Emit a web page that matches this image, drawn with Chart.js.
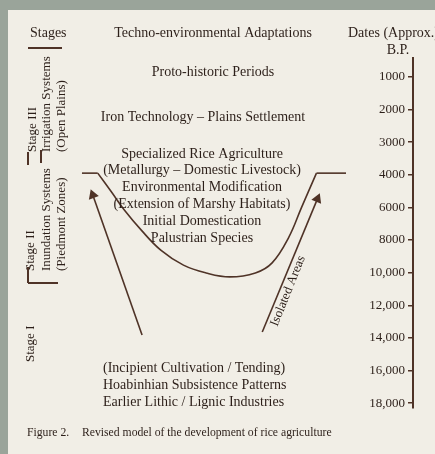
<!DOCTYPE html>
<html>
<head>
<meta charset="utf-8">
<title>Revised model of the development of rice agriculture</title>
<script src="https://cdn.jsdelivr.net/npm/chart.js@4.4.1/dist/chart.umd.min.js"></script>
<style>
	html, body { margin: 0; padding: 0; background: #9aa49a; }
	canvas { display: block; }
</style>
</head>
<body>
<canvas id="riceChart" width="435" height="454"></canvas>
<script>
// date ticks (B.P.), one tick per index on the y scale
var dateLabels = ['1000', '2000', '3000', '4000', '6000', '8000', '10,000', '12,000', '14,000', '16,000', '18,000'];

// U-shaped curve, x in drawing units, y in date-tick index
var curveX = [93, 107, 120, 137, 157, 180, 203, 227, 253, 270, 287, 300, 315];
var curveY = [2.95, 3.53, 4.08, 4.69, 5.31, 5.77, 6.01, 6.13, 6.01, 5.7, 4.91, 3.99, 2.95];
var leftFlatX = [77, 93];
var leftFlatY = [2.95, 2.95];
var rightFlatX = [315, 345];
var rightFlatY = [2.95, 2.95];

// arrows, from tail to head
var leftArrowX = [138, 88];
var leftArrowY = [7.91, 3.62];
var rightArrowX = [260, 316];
var rightArrowY = [7.82, 3.74];

var headers = ['Stages', 'Techno-environmental Adaptations', 'Dates (Approx.)', 'B.P.'];
var upperAdaptations = ['Proto-historic Periods', 'Iron Technology \u2013 Plains Settlement'];
var middleAdaptations = ['Specialized Rice Agriculture', '(Metallurgy \u2013 Domestic Livestock)', 'Environmental Modification', '(Extension of Marshy Habitats)', 'Initial Domestication', 'Palustrian Species'];
var lowerAdaptations = ['(Incipient Cultivation / Tending)', 'Hoabinhian Subsistence Patterns', 'Earlier Lithic / Lignic Industries'];
var stageIII = ['Stage III', 'Irrigation Systems', '(Open Plains)'];
var stageII = ['Stage II', 'Inundation Systems', '(Piedmont Zones)'];
var stageI = ['Stage I'];
var branchLabel = 'Isolated Areas';
var captionLabel = 'Figure 2.';
var captionText = 'Revised model of the development of rice agriculture';

var SERIF = "'Liberation Serif', 'DejaVu Serif', serif";
var INK = '#2c1f19';
var LINE = '#4f3327';

function toPoints(xs, ys) {
	return xs.map(function(x, i) { return { x: x, y: ys[i] }; });
}

var paperPlugin = {
	id: 'paper',
	beforeDraw: function(chart) {
		var ctx = chart.ctx;
		ctx.save();
		ctx.fillStyle = '#9aa49a';
		ctx.fillRect(0, 0, chart.width, chart.height);
		ctx.fillStyle = '#f1eee6';
		ctx.fillRect(8, 10, chart.width - 8, chart.height - 10);
		ctx.restore();
	}
};

var textPlugin = {
	id: 'figureText',
	afterDraw: function(chart) {
		var ctx = chart.ctx;
		ctx.save();
		ctx.fillStyle = INK;
		ctx.textBaseline = 'middle';

		// headers
		ctx.font = '14px ' + SERIF;
		ctx.textAlign = 'left';
		ctx.fillText(headers[0], 30, 33);
		ctx.textAlign = 'center';
		ctx.fillText(headers[1], 213, 33);
		ctx.textAlign = 'left';
		ctx.fillText(headers[2], 348, 33);
		ctx.textAlign = 'center';
		ctx.fillText(headers[3], 398, 50);

		// adaptations
		ctx.font = '14px ' + SERIF;
		ctx.textAlign = 'center';
		ctx.fillText(upperAdaptations[0], 213, 72);
		ctx.fillText(upperAdaptations[1], 203, 117);
		middleAdaptations.forEach(function(t, i) {
			ctx.fillText(t, 202, 154 + i * 16.8);
		});
		ctx.textAlign = 'left';
		lowerAdaptations.forEach(function(t, i) {
			ctx.fillText(t, 103, 368 + i * 17);
		});

		// stage column, rotated
		ctx.font = '13px ' + SERIF;
		function vertical(lines, xs, yStart) {
			lines.forEach(function(t, i) {
				ctx.save();
				ctx.translate(xs[i], yStart);
				ctx.rotate(-Math.PI / 2);
				ctx.textAlign = 'left';
				ctx.fillText(t, 0, 0);
				ctx.restore();
			});
		}
		vertical(stageIII, [33, 47, 62], 152);
		vertical(stageII, [31, 47, 62], 271);
		vertical(stageI, [31], 362);

		// stage rules
		ctx.strokeStyle = LINE;
		ctx.lineWidth = 2;
		ctx.beginPath();
		ctx.moveTo(28, 48); ctx.lineTo(62, 48);
		ctx.moveTo(28, 152); ctx.lineTo(28, 165);
		ctx.moveTo(41, 150); ctx.lineTo(41, 163);
		ctx.moveTo(28, 267); ctx.lineTo(28, 283);
		ctx.moveTo(28, 283); ctx.lineTo(58, 283);
		ctx.stroke();

		// label along the right arrow
		ctx.font = '13px ' + SERIF;
		ctx.save();
		ctx.translate(288, 291);
		ctx.rotate(-68 * Math.PI / 180);
		ctx.textAlign = 'center';
		ctx.fillText(branchLabel, 0, 0);
		ctx.restore();

		// caption
		ctx.font = '11.7px ' + SERIF;
		ctx.textAlign = 'left';
		ctx.fillText(captionLabel, 27, 433);
		ctx.fillText(captionText, 82, 433);
		ctx.restore();
	}
};

function lineSet(xs, ys, extra) {
	var ds = {
		data: toPoints(xs, ys),
		showLine: true,
		borderColor: LINE,
		backgroundColor: LINE,
		borderWidth: 1.6,
		pointRadius: 0,
		tension: 0
	};
	for (var k in extra) ds[k] = extra[k];
	return ds;
}

var ctx = document.getElementById('riceChart');
new Chart(ctx, {
	type: 'scatter',
	data: {
		datasets: [
			lineSet(curveX, curveY, { tension: 0.4 }),
			lineSet(leftFlatX, leftFlatY, {}),
			lineSet(rightFlatX, rightFlatY, {}),
			lineSet(leftArrowX, leftArrowY, { pointStyle: 'triangle', pointRadius: [0, 4.5], rotation: [0, -20] }),
			lineSet(rightArrowX, rightArrowY, { pointStyle: 'triangle', pointRadius: [0, 4.5], rotation: [0, 23] })
		]
	},
	options: {
		responsive: false,
		animation: false,
		layout: { padding: { top: 58, bottom: 46, left: 0, right: 0 } },
		plugins: {
			legend: { display: false },
			tooltip: { enabled: false }
		},
		scales: {
			x: { type: 'linear', display: false, min: 0, max: 413 },
			y: {
				type: 'linear',
				position: 'right',
				reverse: true,
				min: -0.58,
				max: 10.15,
				afterBuildTicks: function(scale) {
					scale.ticks = dateLabels.map(function(_, i) { return { value: i }; });
				},
				afterFit: function(scale) { scale.width = 22; },
				border: { display: true, color: LINE, width: 2 },
				grid: { drawOnChartArea: false, drawTicks: true, tickLength: -5, color: LINE, lineWidth: 1.5 },
				ticks: {
					mirror: true,
					padding: -8,
					color: INK,
					font: { family: SERIF, size: 13 },
					callback: function(value) { return dateLabels[value]; }
				}
			}
		}
	},
	plugins: [paperPlugin, textPlugin]
});
</script>
</body>
</html>
